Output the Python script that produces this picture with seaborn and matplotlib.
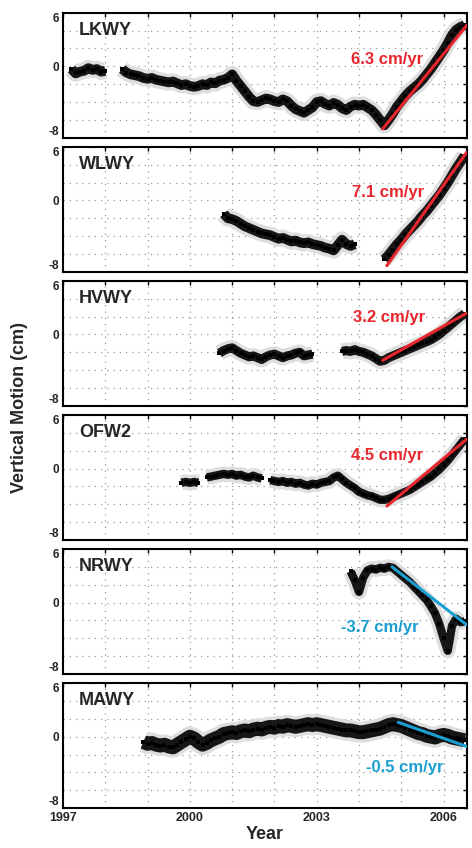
"""
GPS vertical motion time series, Yellowstone stations
6 stacked panels, black daily band + red/cyan linear fits.
"""
import numpy as np
import matplotlib
matplotlib.use("Agg")
import matplotlib.pyplot as plt
import seaborn as sns

nan = np.nan

# =========================
# Data (0.1 yr sampling)
# =========================
stations = ["LKWY", "WLWY", "HVWY", "OFW2", "NRWY", "MAWY"]
start_years = [1997.2, 2000.8, 2000.7, 1999.8, 2003.8, 1998.9]

lkwy = [-0.3, -0.8, -0.6, -0.5, -0.2, -0.4, -0.3, -0.6, -0.5, nan, nan, nan,
        -0.3, -0.7, -0.9, -1.0, -1.1, -1.3, -1.4, -1.3, -1.5, -1.6, -1.7, -1.8,
        -1.7, -1.9, -2.1, -2.0, -2.2, -2.3, -2.2, -2.0, -2.1, -1.8, -1.9, -1.6,
        -1.5, -1.3, -0.9, -1.6, -2.2, -2.8, -3.4, -3.9, -4.0, -3.8, -3.6, -3.7,
        -3.9, -4.0, -3.7, -3.9, -4.4, -4.8, -5.0, -5.2, -4.9, -4.6, -4.0, -3.9,
        -4.2, -4.4, -4.1, -4.3, -4.7, -4.9, -4.5, -4.3, -4.4, -4.3, -4.6, -4.9,
        -5.4, -6.0, -6.6, -6.0, -5.3, -4.5, -3.9, -3.3, -2.8, -2.4, -2.0, -1.5,
        -0.9, -0.3, 0.4, 1.1, 1.8, 2.6, 3.5, 4.1, 4.4, 4.6]
wlwy = [-1.5, -2.0, -2.1, -2.3, -2.6, -2.9, -3.1, -3.3, -3.5, -3.7, -3.8, -3.9,
        -4.1, -4.3, -4.2, -4.4, -4.6, -4.5, -4.7, -4.8, -4.7, -4.9, -5.0, -5.1,
        -5.3, -5.4, -5.6, -5.0, -4.4, -4.9, -5.1, -4.9, nan, nan, nan, nan,
        nan, nan, -6.6, -6.1, -5.5, -4.9, -4.4, -3.8, -3.3, -2.8, -2.3, -1.7,
        -1.2, -0.6, 0.0, 0.6, 1.3, 2.0, 2.8, 3.6, 4.3, 5.0]
hvwy = [-2.1, -1.8, -1.6, -1.5, -1.8, -2.1, -2.3, -2.5, -2.4, -2.6, -2.8, -2.5,
        -2.3, -2.2, -2.4, -2.6, -2.4, -2.3, -2.1, -2.0, -2.4, -2.3, -2.2, nan,
        nan, nan, nan, nan, nan, -1.9, -1.8, -1.9, -1.7, -1.9, -2.0, -2.2,
        -2.4, -2.7, -3.0, -2.9, -2.6, -2.4, -2.2, -2.0, -1.8, -1.6, -1.4, -1.2,
        -1.0, -0.8, -0.6, -0.3, 0.0, 0.4, 0.8, 1.2, 1.6, 2.0, 2.3]
ofw2 = [-1.6, -1.5, -1.6, -1.5, -1.6, nan, -1.0, -0.9, -0.8, -0.7, -0.6, -0.7,
        -0.6, -0.8, -0.7, -0.9, -1.0, -0.8, -1.0, -1.1, nan, -1.3, -1.4, -1.5,
        -1.4, -1.6, -1.5, -1.7, -1.6, -1.8, -1.9, -1.7, -1.8, -1.6, -1.5, -1.4,
        -1.0, -0.8, -1.2, -1.6, -1.9, -2.2, -2.6, -2.8, -3.0, -3.1, -3.3, -3.5,
        -3.5, -3.4, -3.2, -3.0, -2.8, -2.6, -2.4, -2.1, -1.8, -1.5, -1.2, -0.9,
        -0.5, -0.1, 0.4, 0.9, 1.5, 2.1, 2.7, 3.3]
nrwy = [3.5, 2.5, 1.2, 2.8, 3.6, 3.8, 3.7, 3.9, 3.8, 4.0, 3.9, 3.5, 3.1, 2.7,
        2.3, 1.8, 1.3, 0.8, 0.3, -0.4, -1.2, -2.4, -4.0, -5.4, -2.6, -1.8, -2.2,
        -2.1]
mawy = [-0.6, -0.8, -0.7, -0.9, -1.0, -0.9, -1.1, -1.2, -0.9, -0.6, -0.3, 0.0,
        -0.2, -0.6, -0.9, -0.7, -0.4, -0.2, 0.0, 0.3, 0.4, 0.5, 0.4, 0.6, 0.7,
        0.6, 0.8, 0.9, 0.8, 1.0, 1.1, 1.0, 1.2, 1.1, 1.3, 1.2, 1.1, 1.2, 1.3,
        1.4, 1.3, 1.4, 1.3, 1.2, 1.1, 1.0, 0.9, 0.8, 0.7, 0.7, 0.6, 0.5, 0.5,
        0.6, 0.7, 0.8, 0.9, 1.1, 1.3, 1.4, 1.3, 1.2, 1.0, 0.8, 0.6, 0.4, 0.3,
        0.1, 0.0, -0.1, 0.1, 0.2, 0.1, -0.1, -0.2, -0.3, -0.4]
series = [lkwy, wlwy, hvwy, ofw2, nrwy, mawy]

# linear fits after late 2004 (start / end points)
fit_t0 = [2004.56, 2004.66, 2004.56, 2004.66, 2004.78, 2004.93]
fit_y0 = [-7.0, -7.3, -2.9, -4.2, 4.0, 1.6]
fit_t1 = [2006.55, 2006.55, 2006.55, 2006.55, 2006.55, 2006.55]
fit_y1 = [4.6, 5.4, 2.4, 3.3, -2.5, -1.1]
rates = ["6.3 cm/yr", "7.1 cm/yr", "3.2 cm/yr", "4.5 cm/yr",
         "-3.7 cm/yr", "-0.5 cm/yr"]

year_ticks = list(range(1997, 2007))
year_labels = ["1997", "", "", "2000", "", "", "2003", "", "", "2006"]

# =========================
# Style
# =========================
RED = "#e8262d"
CYAN = "#1a9fd0"
rate_colors = [RED, RED, RED, RED, CYAN, CYAN]
rate_pos = [(2004.66, 0.8), (2004.68, 0.9), (2004.72, 1.9), (2004.66, 1.5),
            (2004.5, -2.8), (2005.08, -3.5)]
band_lw = [7, 7, 6.5, 6, 6, 10]

sns.set_theme(style="white")
plt.rcParams["font.family"] = ["Liberation Sans", "DejaVu Sans"]
plt.rcParams["font.weight"] = "bold"

fig, axes = plt.subplots(6, 1, figsize=(4.72, 8.48), dpi=100, sharex=True)
fig.subplots_adjust(left=0.1335, right=0.989, top=0.985, bottom=0.047,
                    hspace=0.072)

for i, ax in enumerate(axes):
    vals = np.array(series[i], dtype=float)
    t = start_years[i] + 0.1 * np.arange(len(vals))

    # gray error-bar halo, then the dense black daily band
    ax.plot(t, vals, color="#dedede", lw=band_lw[i] + 5,
            solid_capstyle="butt", zorder=2)
    ax.plot(t, vals, color="black", lw=band_lw[i], alpha=0.9,
            solid_capstyle="butt", zorder=3)
    sns.scatterplot(x=t, y=vals, ax=ax, color="black", s=6, marker="s",
                    linewidth=0, zorder=4)

    # fitted trend
    sns.lineplot(x=[fit_t0[i], fit_t1[i]], y=[fit_y0[i], fit_y1[i]], ax=ax,
                 color=rate_colors[i], lw=2.2, zorder=5)
    ax.text(rate_pos[i][0], rate_pos[i][1], rates[i], color=rate_colors[i],
            fontsize=12, fontweight="bold", ha="center", va="center", zorder=6)

    ax.text(0.04, 0.86, stations[i], transform=ax.transAxes, fontsize=13,
            fontweight="bold", va="center", ha="left")

    ax.set_xlim(1997, 2006.55)
    ax.set_ylim(-8, 6)
    ax.set_xticks(year_ticks)
    ax.set_yticks([-8, 0, 6])
    ax.set_yticklabels(["-8", "0", "6"], fontsize=8.5, fontweight="bold")
    # keep end labels inside their own panel so neighbours don't collide
    ylabs = ax.get_yticklabels()
    ylabs[0].set_verticalalignment("bottom")
    ylabs[2].set_verticalalignment("top")
    ax.set_yticks([-6, -4, -2, 2, 4], minor=True)
    ax.tick_params(which="both", direction="in", top=True, right=True,
                   length=3, width=1, color="black", pad=3)
    ax.grid(True, which="both", axis="y", color="#9a9a9a",
            linestyle=(0, (1, 4)), lw=0.9)
    ax.grid(True, which="major", axis="x", color="#9a9a9a",
            linestyle=(0, (1, 4)), lw=0.9)
    for sp in ax.spines.values():
        sp.set_color("black")
        sp.set_linewidth(1.5)

axes[-1].set_xticklabels(year_labels, fontsize=9, fontweight="bold")
axes[-1].set_xlabel("Year", fontsize=13, fontweight="bold", labelpad=1)
fig.text(0.042, 0.52, "Vertical Motion (cm)", rotation=90, fontsize=13,
         fontweight="bold", ha="center", va="center")

plt.savefig("out.png", dpi=100)
plt.close()
